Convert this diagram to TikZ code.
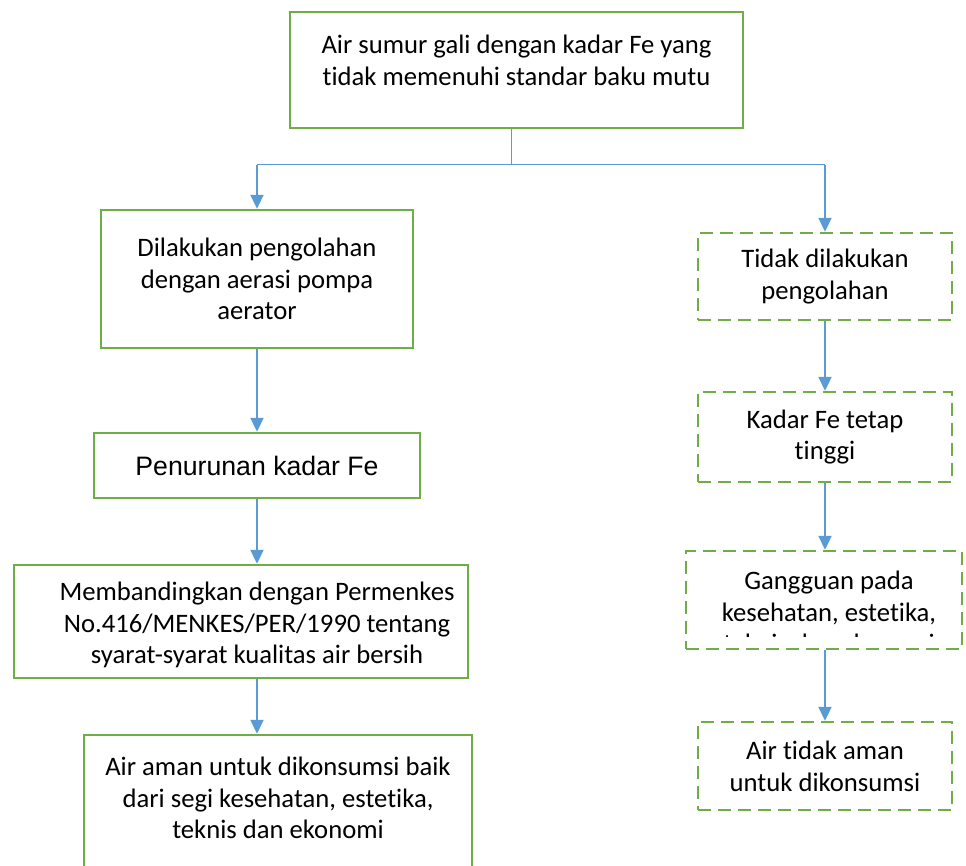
\documentclass[tikz,border=0pt]{standalone}
\usepackage{fontspec}
\setmainfont{Carlito}[Ligatures=NoCommon]
\newfontfamily\arialfont{Liberation Sans}
\usetikzlibrary{arrows.meta}
\definecolor{hijau}{HTML}{70AD47}
\definecolor{biru}{HTML}{5B9BD5}

\begin{document}
\begin{tikzpicture}[x=0.75pt, y=-0.75pt,
  kotak/.style={draw=hijau, line width=1.8pt, inner sep=0pt},
  putus/.style={kotak, dash pattern=on 9.75pt off 5.25pt},
  teks/.style={align=center, font=\fontsize{20}{23.8}\selectfont},
  panah/.style={draw=biru, line width=1.5pt, -{Triangle[width=9.75pt,length=10.5pt]}}]
\useasboundingbox (0,0) rectangle (966,866);
\clip (0,0) rectangle (966,866);

\node[kotak, minimum width=339.75pt, minimum height=87pt] (sumur) at (516.5,70) {};
\node[teks] (sumurtxt) at (516.5,60) {Air sumur gali dengan kadar Fe yang\\tidak memenuhi standar baku mutu};

\node[kotak, teks, minimum width=234pt, minimum height=103.5pt] (olah) at (257,279) {Dilakukan pengolahan\\dengan aerasi pompa\\aerator};
\node[kotak, minimum width=244.5pt, minimum height=48.75pt, font=\arialfont\fontsize{20}{24}\selectfont] (turun) at (257,465.5) {Penurunan kadar Fe};
\node[kotak, minimum width=340.5pt, minimum height=84.75pt] (banding) at (241,621.5) {};
\node[teks] (bandingtxt) at (257,625) {Membandingkan dengan Permenkes\\No.416/MENKES/PER/1990 tentang\\syarat-syarat kualitas air bersih};
\node[kotak, minimum width=291pt, minimum height=112.5pt] (aman) at (278,810) {};
\node[teks] (amantxt) at (278,798) {Air aman untuk dikonsumsi baik\\dari segi kesehatan, estetika,\\teknis dan ekonomi};

\node[putus, teks, minimum width=190.5pt, minimum height=65.25pt] (tidak) at (825,276.5) {Tidak dilakukan\\pengolahan};
\node[putus, teks, minimum width=190.5pt, minimum height=67.5pt] (tinggi) at (825,437) {Kadar Fe tetap\\tinggi};
\node[putus, minimum width=207pt, minimum height=73.5pt] (ganggu) at (824,600) {};
\begin{scope}
\clip (686,551) rectangle (962,636);
\node[teks] (ganggutxt) at (829,612) {Gangguan pada\\kesehatan, estetika,\\teknis dan ekonomi};
\end{scope}
\node[putus, teks, minimum width=190.5pt, minimum height=66pt] (tidakaman) at (825,766) {Air tidak aman\\untuk dikonsumsi};

\coordinate (cabang) at (511,165);
\draw[biru, line width=0.75pt] (cabang |- sumur.south) -- (cabang);
\draw[biru, line width=0.75pt] (cabang -| olah) -- (cabang -| tidak);
\draw[panah] (cabang -| olah) -- (olah.north);
\draw[panah] (cabang -| tidak) -- (tidak.north);
\draw[panah] (olah.south) -- (turun.north);
\draw[panah] (turun.south) -- (turun.south |- banding.north);
\draw[panah] (bandingtxt |- banding.south) -- (bandingtxt |- aman.north);
\draw[panah] (tidak.south) -- (tinggi.north);
\draw[panah] (tinggi.south) -- (tinggi.south |- ganggu.north);
\draw[panah] (tinggi.south |- ganggu.south) -- (tidakaman.north);
\end{tikzpicture}
\end{document}
